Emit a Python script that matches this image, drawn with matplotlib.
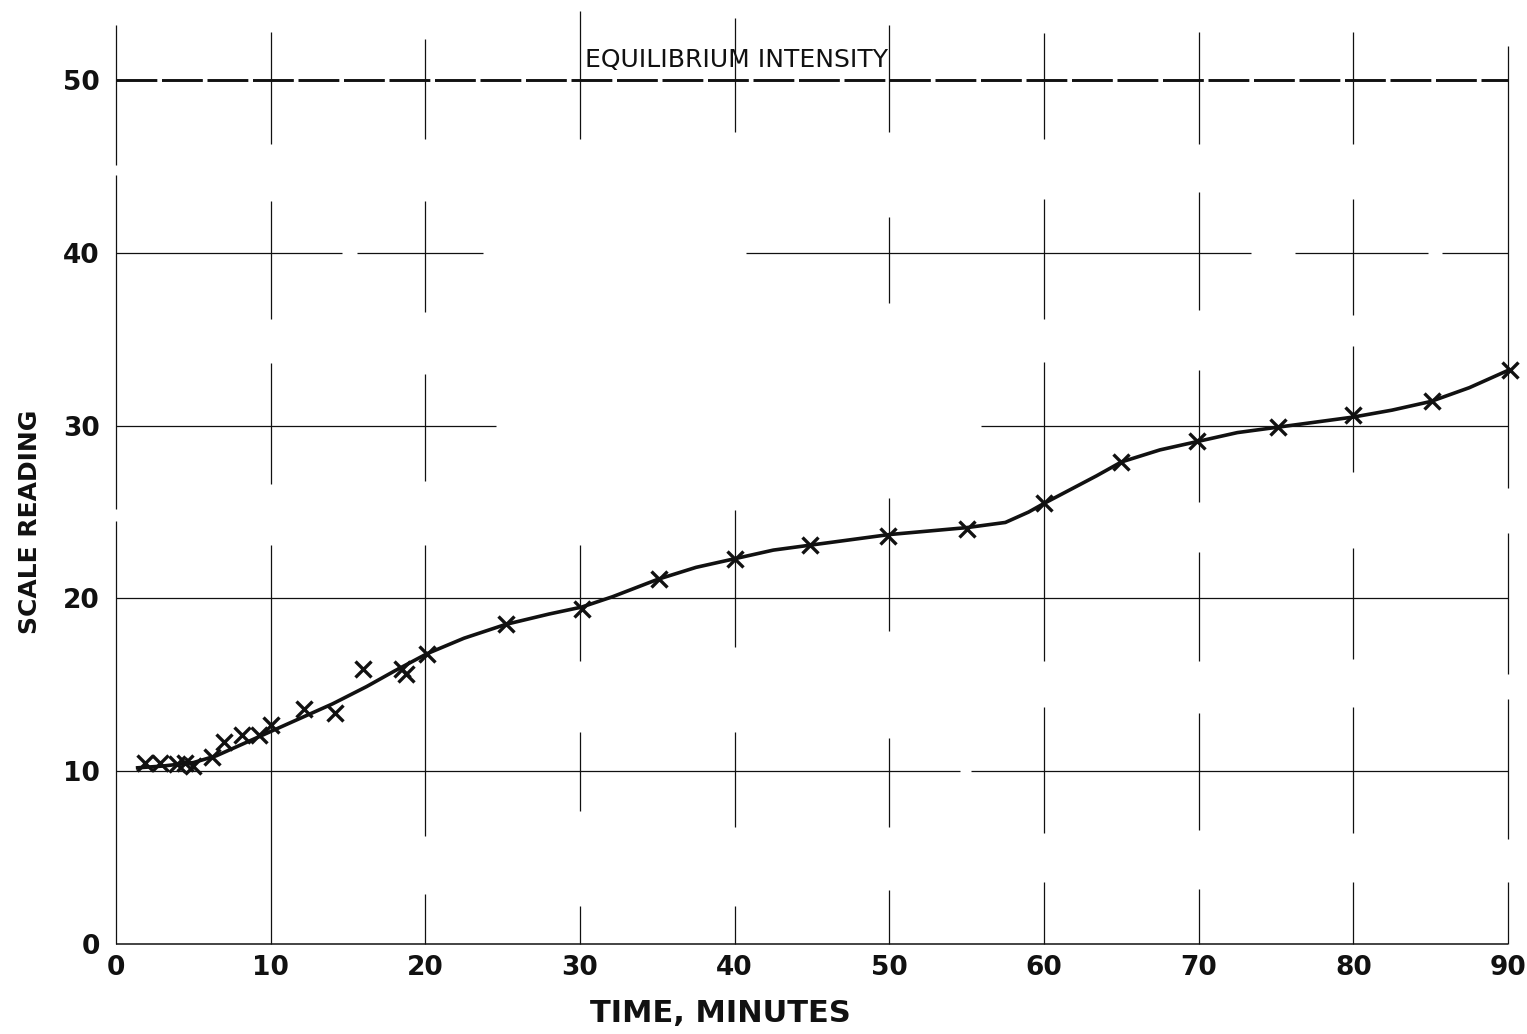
import matplotlib.pyplot as plt

# measured readings (time in minutes, scale reading)
time_min = [1.9, 2.85, 3.95, 4.45, 5.0, 6.2, 7.0, 8.15, 9.25, 10.0,
            12.15, 14.15, 16.0, 18.5, 18.75, 20.1, 25.2, 30.1, 35.1, 40.0,
            44.9, 49.9, 55.0, 60.0, 65.0, 69.9, 75.1, 80.0, 85.1, 90.1]
reading = [10.5, 10.5, 10.4, 10.5, 10.3, 10.8, 11.7, 12.1, 12.1, 12.7,
           13.6, 13.4, 15.9, 15.9, 15.6, 16.8, 18.5, 19.4, 21.1, 22.3,
           23.1, 23.6, 24.0, 25.5, 27.9, 29.1, 29.9, 30.6, 31.4, 33.2]

# hand-drawn fitted curve
curve_t = [1.4, 3.0, 5.0, 6.5, 8.0, 10.0, 12.0, 14.0, 16.2, 18.0, 20.1,
           22.5, 25.2, 28.0, 30.1, 32.1, 35.0, 37.5, 40.0, 42.5, 45.0,
           47.5, 50.0, 52.5, 55.0, 57.5, 59.0, 60.0, 61.7, 63.4, 65.0,
           67.5, 70.0, 72.5, 75.0, 77.5, 80.0, 82.5, 85.0, 87.5, 90.0]
curve_r = [10.2, 10.3, 10.5, 10.9, 11.5, 12.3, 13.1, 13.9, 14.9, 15.8, 16.8,
           17.7, 18.5, 19.1, 19.5, 20.1, 21.1, 21.8, 22.3, 22.8, 23.1,
           23.4, 23.7, 23.9, 24.1, 24.4, 25.0, 25.5, 26.3, 27.1, 27.9,
           28.6, 29.1, 29.6, 29.9, 30.2, 30.5, 30.9, 31.4, 32.2, 33.2]

equilibrium = 50

x_ticks = [0, 10, 20, 30, 40, 50, 60, 70, 80, 90]
y_ticks = [0, 10, 20, 30, 40, 50]

# broken ruling of the graph paper
h_rules = {
    0: [(0, 90)],
    10: [(0, 54.6), (55.3, 90)],
    20: [(0, 90)],
    30: [(0, 24.6), (55.9, 90)],
    40: [(0, 14.6), (15.6, 23.7), (40.7, 73.4), (76.2, 84.8), (85.7, 90)],
}
v_rules = {
    0: [(0, 24.5), (25.2, 44.5), (45.1, 53.2)],
    10: [(0, 23.1), (26.6, 33.6), (36.2, 43.0), (46.3, 52.8)],
    20: [(0, 2.9), (6.25, 23.1), (26.8, 33.0), (36.6, 43.0), (46.6, 52.4)],
    30: [(0, 2.2), (7.7, 12.3), (16.4, 23.1), (46.6, 54.0)],
    40: [(0, 2.2), (6.8, 12.3), (17.2, 25.1), (47.0, 53.6)],
    50: [(0, 3.1), (6.8, 11.9), (18.1, 25.8), (37.1, 42.1), (47.0, 53.2)],
    60: [(0, 3.6), (6.4, 13.7), (16.4, 33.7), (36.2, 43.1), (46.6, 52.7)],
    70: [(0, 3.2), (6.6, 13.4), (16.4, 22.7), (25.6, 33.2), (36.7, 43.5), (46.3, 52.8)],
    80: [(0, 3.6), (6.4, 13.7), (16.5, 22.9), (27.3, 34.6), (36.4, 43.1), (46.3, 52.8)],
    90: [(0, 3.6), (6.1, 14.2), (15.6, 23.8), (26.4, 52.0)],
}

fig = plt.figure(figsize=(15.27, 10.34), dpi=100)
ax = fig.add_axes([0.0709, 0.0870, 0.9268, 0.894])
ax.set_xlim(-0.5, 91)
ax.set_ylim(0, 53.5)

ink = '#111111'
for y, spans in h_rules.items():
    for x0, x1 in spans:
        ax.plot([x0, x1], [y, y], color=ink, lw=1.1 if y == 0 else 0.9,
                solid_capstyle='butt', clip_on=False)
for x, spans in v_rules.items():
    for y0, y1 in spans:
        ax.plot([x, x], [y0, y1], color=ink, lw=0.9,
                solid_capstyle='butt', clip_on=False)

ax.plot([0, 90], [equilibrium, equilibrium], color=ink, lw=2.1,
        dashes=(14, 1.6))
ax.text(30.3, 50.45, 'EQUILIBRIUM INTENSITY', fontsize=18,
        color=ink, ha='left', va='bottom')

ax.plot(curve_t, curve_r, color=ink, lw=2.6, solid_joinstyle='round')
ax.plot(time_min, reading, ls='none', marker='x', ms=11, mew=2.4, color=ink)

for s in ax.spines.values():
    s.set_visible(False)
ax.set_xticks(x_ticks)
ax.set_yticks(y_ticks)
ax.tick_params(length=0, labelsize=19, colors=ink)
ax.tick_params(axis='x', pad=8)
ax.tick_params(axis='y', pad=6)
for lab in ax.get_xticklabels() + ax.get_yticklabels():
    lab.set_fontweight('bold')

fig.text(720 / 1527, 1 - 1013 / 1034, 'TIME, MINUTES', fontsize=22,
         fontweight='bold', color=ink, ha='center', va='center')
fig.text(30 / 1527, 1 - 522 / 1034, 'SCALE READING', fontsize=18,
         fontweight='bold', color=ink, ha='center', va='center', rotation=90)

fig.savefig('out.png', dpi=100, facecolor='white')
